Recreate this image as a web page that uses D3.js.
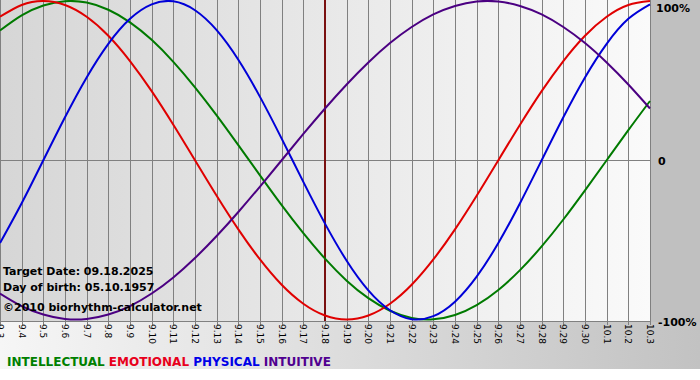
<!DOCTYPE html>
<html><head><meta charset="utf-8">
<script src="https://cdn.jsdelivr.net/npm/d3@7"></script>
<style>body{margin:0;background:#fff}svg{display:block}</style>
</head><body>
<script>
const dayLabels = ["9.3","9.4","9.5","9.6","9.7","9.8","9.9","9.10","9.11","9.12","9.13","9.14","9.15","9.16","9.17","9.18","9.19","9.20","9.21","9.22","9.23","9.24","9.25","9.26","9.27","9.28","9.29","9.30","10.1","10.2","10.3"];
const physical = [-0.520,-0.270,0,0.270,0.520,0.731,0.888,0.979,0.998,0.942,0.817,0.631,0.398,0.136,-0.136,-0.398,-0.631,-0.817,-0.942,-0.998,-0.979,-0.888,-0.731,-0.520,-0.270,0,0.270,0.520,0.731,0.888,0.979];
const emotional = [0.901,0.975,1,0.975,0.901,0.782,0.623,0.434,0.223,0,-0.223,-0.434,-0.623,-0.782,-0.901,-0.975,-1,-0.975,-0.901,-0.782,-0.623,-0.434,-0.223,0,0.223,0.434,0.623,0.782,0.901,0.975,1];
const intellectual = [0.815,0.910,0.972,0.999,0.990,0.945,0.866,0.756,0.618,0.458,0.282,0.095,-0.095,-0.282,-0.458,-0.618,-0.756,-0.866,-0.945,-0.990,-0.999,-0.972,-0.910,-0.815,-0.690,-0.541,-0.372,-0.189,0,0.189,0.372];
const intuitive = [-0.837,-0.916,-0.969,-0.997,-0.997,-0.969,-0.916,-0.837,-0.736,-0.614,-0.476,-0.325,-0.165,0,0.165,0.325,0.476,0.614,0.736,0.837,0.916,0.969,0.997,0.997,0.969,0.916,0.837,0.736,0.614,0.476,0.325];
const yTickValues = [1, 0, -1];
const yTickLabels = ["100%", "0", "-100%"];
const targetIndex = 15;
const infoLines = ["Target Date: 09.18.2025", "Day of birth: 05.10.1957", "\u00a92010 biorhythm-calculator.net"];
const legendNames = ["INTELLECTUAL", "EMOTIONAL", "PHYSICAL", "INTUITIVE"];

const W = 700, H = 380;
const plotL = 0, plotR = 650, plotT = 0, plotB = 321;
const svg = d3.select("body").append("svg").attr("width", W).attr("height", H);
const defs = svg.append("defs");
const g1 = defs.append("linearGradient").attr("id","plotbg").attr("x1","0").attr("x2","1").attr("y1","0").attr("y2","0");
g1.append("stop").attr("offset","0").attr("stop-color","#d6d6d6");
g1.append("stop").attr("offset","1").attr("stop-color","#fafafa");
const g2 = defs.append("linearGradient").attr("id","botbg").attr("x1","0").attr("x2","1").attr("y1","0").attr("y2","0");
g2.append("stop").attr("offset","0").attr("stop-color","#f6f6f6");
g2.append("stop").attr("offset","1").attr("stop-color","#c2c2c2");

svg.append("rect").attr("x",0).attr("y",0).attr("width",W).attr("height",369).attr("fill","url(#botbg)");
svg.append("rect").attr("x",plotR+1).attr("y",0).attr("width",W-plotR-1).attr("height",plotB+1).attr("fill","#c0c0c0");
svg.append("rect").attr("x",plotL).attr("y",plotT).attr("width",plotR-plotL).attr("height",plotB-plotT).attr("fill","url(#plotbg)");

const x = d3.scaleLinear().domain([0, dayLabels.length-1]).range([plotL, plotR]);
const y = d3.scaleLinear().domain([-1, 1]).range([319.5, 1]);

// vertical grid
svg.append("g").selectAll("line").data(dayLabels).join("line")
  .attr("x1",(d,i)=>Math.round(x(i))+0.5).attr("x2",(d,i)=>Math.round(x(i))+0.5)
  .attr("y1",plotT).attr("y2",plotB+4)
  .attr("stroke","#808080").attr("stroke-width",1);
// zero line and bottom axis
svg.append("line").attr("x1",plotL).attr("x2",plotR).attr("y1",Math.round(y(0))+0.5).attr("y2",Math.round(y(0))+0.5).attr("stroke","#808080");
svg.append("line").attr("x1",plotL).attr("x2",plotR+1).attr("y1",plotB+0.5).attr("y2",plotB+0.5).attr("stroke","#808080");

// x labels rotated
svg.append("g").selectAll("text").data(dayLabels).join("text")
  .attr("transform",(d,i)=>`translate(${Math.round(x(i))-3.5},${plotB+3}) rotate(90)`)
  .attr("font-family","DejaVu Sans, Verdana, sans-serif").attr("font-size","9px").attr("fill","#000")
  .text(d=>d);

// target line
svg.append("line").attr("x1",Math.round(x(targetIndex))).attr("x2",Math.round(x(targetIndex)))
  .attr("y1",plotT).attr("y2",plotB).attr("stroke","#7a1010").attr("stroke-width",2);

const line = d3.line().x((d,i)=>x(i)).y(d=>y(d)).curve(d3.curveNatural);
const series = [
  {v: intellectual, c: "#007a00"},
  {v: emotional, c: "#e00000"},
  {v: physical, c: "#0000d8"},
  {v: intuitive, c: "#4b0082"}
];
svg.append("g").selectAll("path").data(series).join("path")
  .attr("d",d=>line(d.v)).attr("fill","none").attr("stroke",d=>d.c).attr("stroke-width",2);

// y labels
svg.append("g").selectAll("text").data(yTickValues).join("text")
  .attr("x",(d,i)=> i===1 ? 658 : (i===0 ? 656 : 658))
  .attr("y",(d,i)=>[12,165,326][i])
  .attr("font-family","DejaVu Sans, Verdana, sans-serif").attr("font-size","11px").attr("font-weight","bold").attr("fill","#000")
  .text((d,i)=>yTickLabels[i]);

// info text
svg.append("g").selectAll("text").data(infoLines).join("text")
  .attr("x",3).attr("y",(d,i)=>[275,291,311][i])
  .attr("font-family","DejaVu Sans, Verdana, sans-serif").attr("font-size","11px").attr("font-weight","bold").attr("fill","#000")
  .text(d=>d);

// legend
const legendColors = ["#008000","#e8001c","#0000e8","#500090"];
const leg = svg.append("text").attr("x",7).attr("y",366)
  .attr("font-family","DejaVu Sans, Verdana, sans-serif").attr("font-size","12px").attr("font-weight","bold");
legendNames.forEach((n,i)=>{
  leg.append("tspan").attr("fill",legendColors[i]).text((i?" ":"")+n);
});
</script>
</body></html>
